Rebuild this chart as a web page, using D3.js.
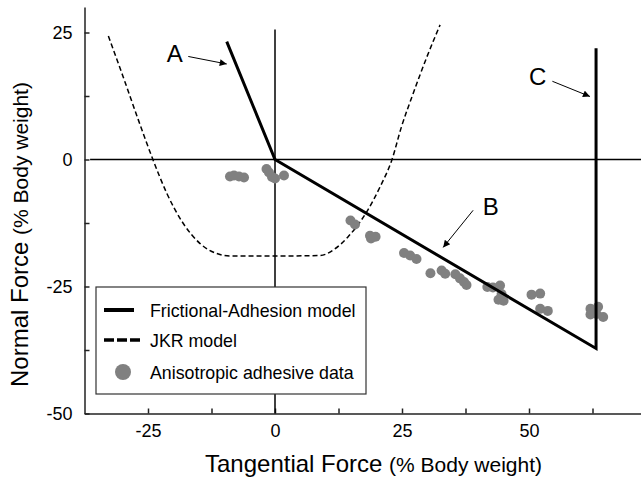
<!DOCTYPE html>
<html>
<head>
<meta charset="utf-8">
<script src="https://cdn.jsdelivr.net/npm/d3@7"></script>
<style>
    body { margin: 0; background: #fff; }
    text { font-family: "Liberation Sans", Arial, sans-serif; fill: #000; }
</style>
</head>
<body>
<div id="chart"></div>
<script>
// Frictional-adhesion model (solid polyline A-B-C)
const frictionX = [-9.5, 0, 63.2, 63.2];
const frictionY = [23.2, 0, -37.2, 21.9];

// JKR model (dashed curve)
const jkrX = [-32.8, -29.9, -26.9, -24.0, -21.3, -18.05, -14.8, -11.5, -8.9, 0, 8.9, 11.5, 14.4, 18.05, 20.7, 23.0, 24.9, 27.2, 29.9, 32.5];
const jkrY = [24.3, 16.3, 7.8, -0.1, -6.65, -12.6, -16.5, -18.5, -19.0, -19.0, -18.9, -17.8, -15.2, -10.3, -5.35, -0.1, 6.45, 13.0, 20.2, 26.5];

// Anisotropic adhesive data
const dataX = [-8.86, -8.07, -7.09, -6.10, -1.67, -1.18, -0.59, 0, 1.77,
    14.86, 15.75, 18.7, 19.8, 18.9, 25.4, 26.6, 27.85,
    30.6, 32.8, 33.5, 35.5, 36.4, 37.2, 37.7,
    41.8, 42.9, 44.3, 44.0, 45.0, 44.6,
    50.5, 52.2, 52.2, 53.7,
    62.1, 63.6, 62.1, 63.3, 64.6];
const dataY = [-3.35, -3.15, -3.35, -3.54, -1.87, -2.56, -3.44, -3.74, -3.15,
    -12.0, -12.8, -15.0, -15.2, -15.55, -18.4, -18.9, -19.6,
    -22.4, -21.85, -22.5, -22.6, -23.4, -24.1, -24.7,
    -25.1, -25.2, -24.8, -27.6, -27.8, -26.5,
    -26.6, -26.4, -29.4, -29.8,
    -29.4, -29.0, -30.5, -30.4, -31.0];

// Annotation letters and their arrows
const noteLabels = ['A', 'B', 'C'];
const noteTextX = [-21.3, 40.9, 50.0];
const noteTextY = [19.1, -11.0, 14.6];
const arrowX1 = [-17.07, 39.0, 54.6];
const arrowY1 = [20.28, -10.0, 15.4];
const arrowX2 = [-9.5, 33.1, 62.0];
const arrowY2 = [18.8, -17.3, 12.4];

// Axis ticks
const xMajorTicks = [-25, 0, 25, 50];
const xMinorTicks = [-12.5, 12.5, 37.5, 62.5];
const yMajorTicks = [-50, -25, 0, 25];
const yMinorTicks = [-37.5, -12.5, 12.5];

const legendLabels = ['Frictional-Adhesion model', 'JKR model', 'Anisotropic adhesive data'];

const width = 641, height = 478;

const svg = d3.select('#chart')
    .append('svg')
    .attr('width', width)
    .attr('height', height);

const x = d3.scaleLinear().domain([-37.5, 75]).range([84.5, 656]);
const y = d3.scaleLinear().domain([-50, 30]).range([413.5, 7.1]);

// plain hyphen for negatives, like the original
const tickFmt = d => String(d);

// Axes with inward ticks
svg.append('g')
    .attr('transform', `translate(0,${y(-50)})`)
    .call(d3.axisBottom(x).tickValues(xMajorTicks).tickSizeInner(-5).tickSizeOuter(0).tickPadding(11).tickFormat(tickFmt));
svg.append('g')
    .attr('transform', `translate(0,${y(-50)})`)
    .call(d3.axisBottom(x).tickValues(xMinorTicks).tickSizeInner(-5).tickSizeOuter(0).tickFormat(''))
    .select('.domain').remove();

svg.append('g')
    .attr('transform', `translate(${x(-37.5)},0)`)
    .call(d3.axisLeft(y).tickValues(yMajorTicks).tickSizeInner(-5).tickSizeOuter(0).tickPadding(12).tickFormat(tickFmt));
svg.append('g')
    .attr('transform', `translate(${x(-37.5)},0)`)
    .call(d3.axisLeft(y).tickValues(yMinorTicks).tickSizeInner(-5).tickSizeOuter(0).tickFormat(''))
    .select('.domain').remove();

svg.selectAll('.domain, .tick line').attr('stroke', '#222').attr('stroke-width', 1.5);
svg.selectAll('.tick text')
    .style('font-family', '"Liberation Sans", Arial, sans-serif')
    .style('font-size', '18px')
    .attr('fill', '#000');

// Zero lines
svg.append('line')
    .attr('x1', x(-36.4)).attr('x2', width)
    .attr('y1', y(0)).attr('y2', y(0))
    .attr('stroke', '#000').attr('stroke-width', 1.5);
svg.append('line')
    .attr('x1', x(0)).attr('x2', x(0))
    .attr('y1', y(25.6)).attr('y2', y(-50))
    .attr('stroke', '#000').attr('stroke-width', 1.5);

// JKR dashed curve
const jkrLine = d3.line()
    .x(i => x(jkrX[i]))
    .y(i => y(jkrY[i]))
    .curve(d3.curveMonotoneX);
svg.append('path')
    .datum(d3.range(jkrX.length))
    .attr('fill', 'none')
    .attr('stroke', '#000')
    .attr('stroke-width', 1.5)
    .attr('stroke-dasharray', '5,3')
    .attr('d', jkrLine);

// Data points
svg.append('g')
    .selectAll('circle')
    .data(d3.range(dataX.length))
    .join('circle')
    .attr('cx', i => x(dataX[i]))
    .attr('cy', i => y(dataY[i]))
    .attr('r', 5)
    .attr('fill', '#808080');

// Frictional-adhesion model
const fricLine = d3.line()
    .x(i => x(frictionX[i]))
    .y(i => y(frictionY[i]));
svg.append('path')
    .datum(d3.range(frictionX.length))
    .attr('fill', 'none')
    .attr('stroke', '#000')
    .attr('stroke-width', 3)
    .attr('stroke-linejoin', 'miter')
    .attr('d', fricLine);

// Arrow marker
svg.append('defs').append('marker')
    .attr('id', 'arrow')
    .attr('viewBox', '0 0 10 10')
    .attr('refX', 10).attr('refY', 5)
    .attr('markerWidth', 9).attr('markerHeight', 7)
    .attr('markerUnits', 'userSpaceOnUse')
    .attr('orient', 'auto')
    .append('path')
    .attr('d', 'M0,0 L10,5 L0,10 Z')
    .attr('fill', '#000');

noteLabels.forEach((label, i) => {
    svg.append('line')
        .attr('x1', x(arrowX1[i])).attr('y1', y(arrowY1[i]))
        .attr('x2', x(arrowX2[i])).attr('y2', y(arrowY2[i]))
        .attr('stroke', '#000')
        .attr('stroke-width', 1)
        .attr('marker-end', 'url(#arrow)');
    svg.append('text')
        .attr('x', x(noteTextX[i]))
        .attr('y', y(noteTextY[i]))
        .style('font-size', '24px')
        .text(label);
});

// Legend
const legend = svg.append('g').attr('transform', 'translate(96,287)');
legend.append('rect')
    .attr('width', 270).attr('height', 107)
    .attr('fill', '#fff')
    .attr('stroke', '#333')
    .attr('stroke-width', 1.2);

const rowY = [23, 53, 85];
legend.append('line')
    .attr('x1', 8).attr('x2', 38).attr('y1', rowY[0]).attr('y2', rowY[0])
    .attr('stroke', '#000').attr('stroke-width', 4);
legend.append('line')
    .attr('x1', 8).attr('x2', 46).attr('y1', rowY[1]).attr('y2', rowY[1])
    .attr('stroke', '#000').attr('stroke-width', 3.5)
    .attr('stroke-dasharray', '10,3');
legend.append('circle')
    .attr('cx', 27).attr('cy', rowY[2]).attr('r', 8)
    .attr('fill', '#808080');

legend.selectAll('.legend-label')
    .data(legendLabels)
    .join('text')
    .attr('class', 'legend-label')
    .attr('x', 54)
    .attr('y', (d, i) => rowY[i] + 6.5)
    .style('font-size', '17.8px')
    .text(d => d);

// Axis titles
const xTitle = svg.append('text')
    .attr('x', 205)
    .attr('y', 472)
    .style('font-size', '24px');
xTitle.append('tspan').text('Tangential Force ');
xTitle.append('tspan').style('font-size', '21px').text('(% Body weight)');

const yTitle = svg.append('text')
    .attr('transform', 'translate(28,387) rotate(-90)')
    .style('font-size', '24px');
yTitle.append('tspan').text('Normal Force ');
yTitle.append('tspan').style('font-size', '21px').text('(% Body weight)');
</script>
</body>
</html>
